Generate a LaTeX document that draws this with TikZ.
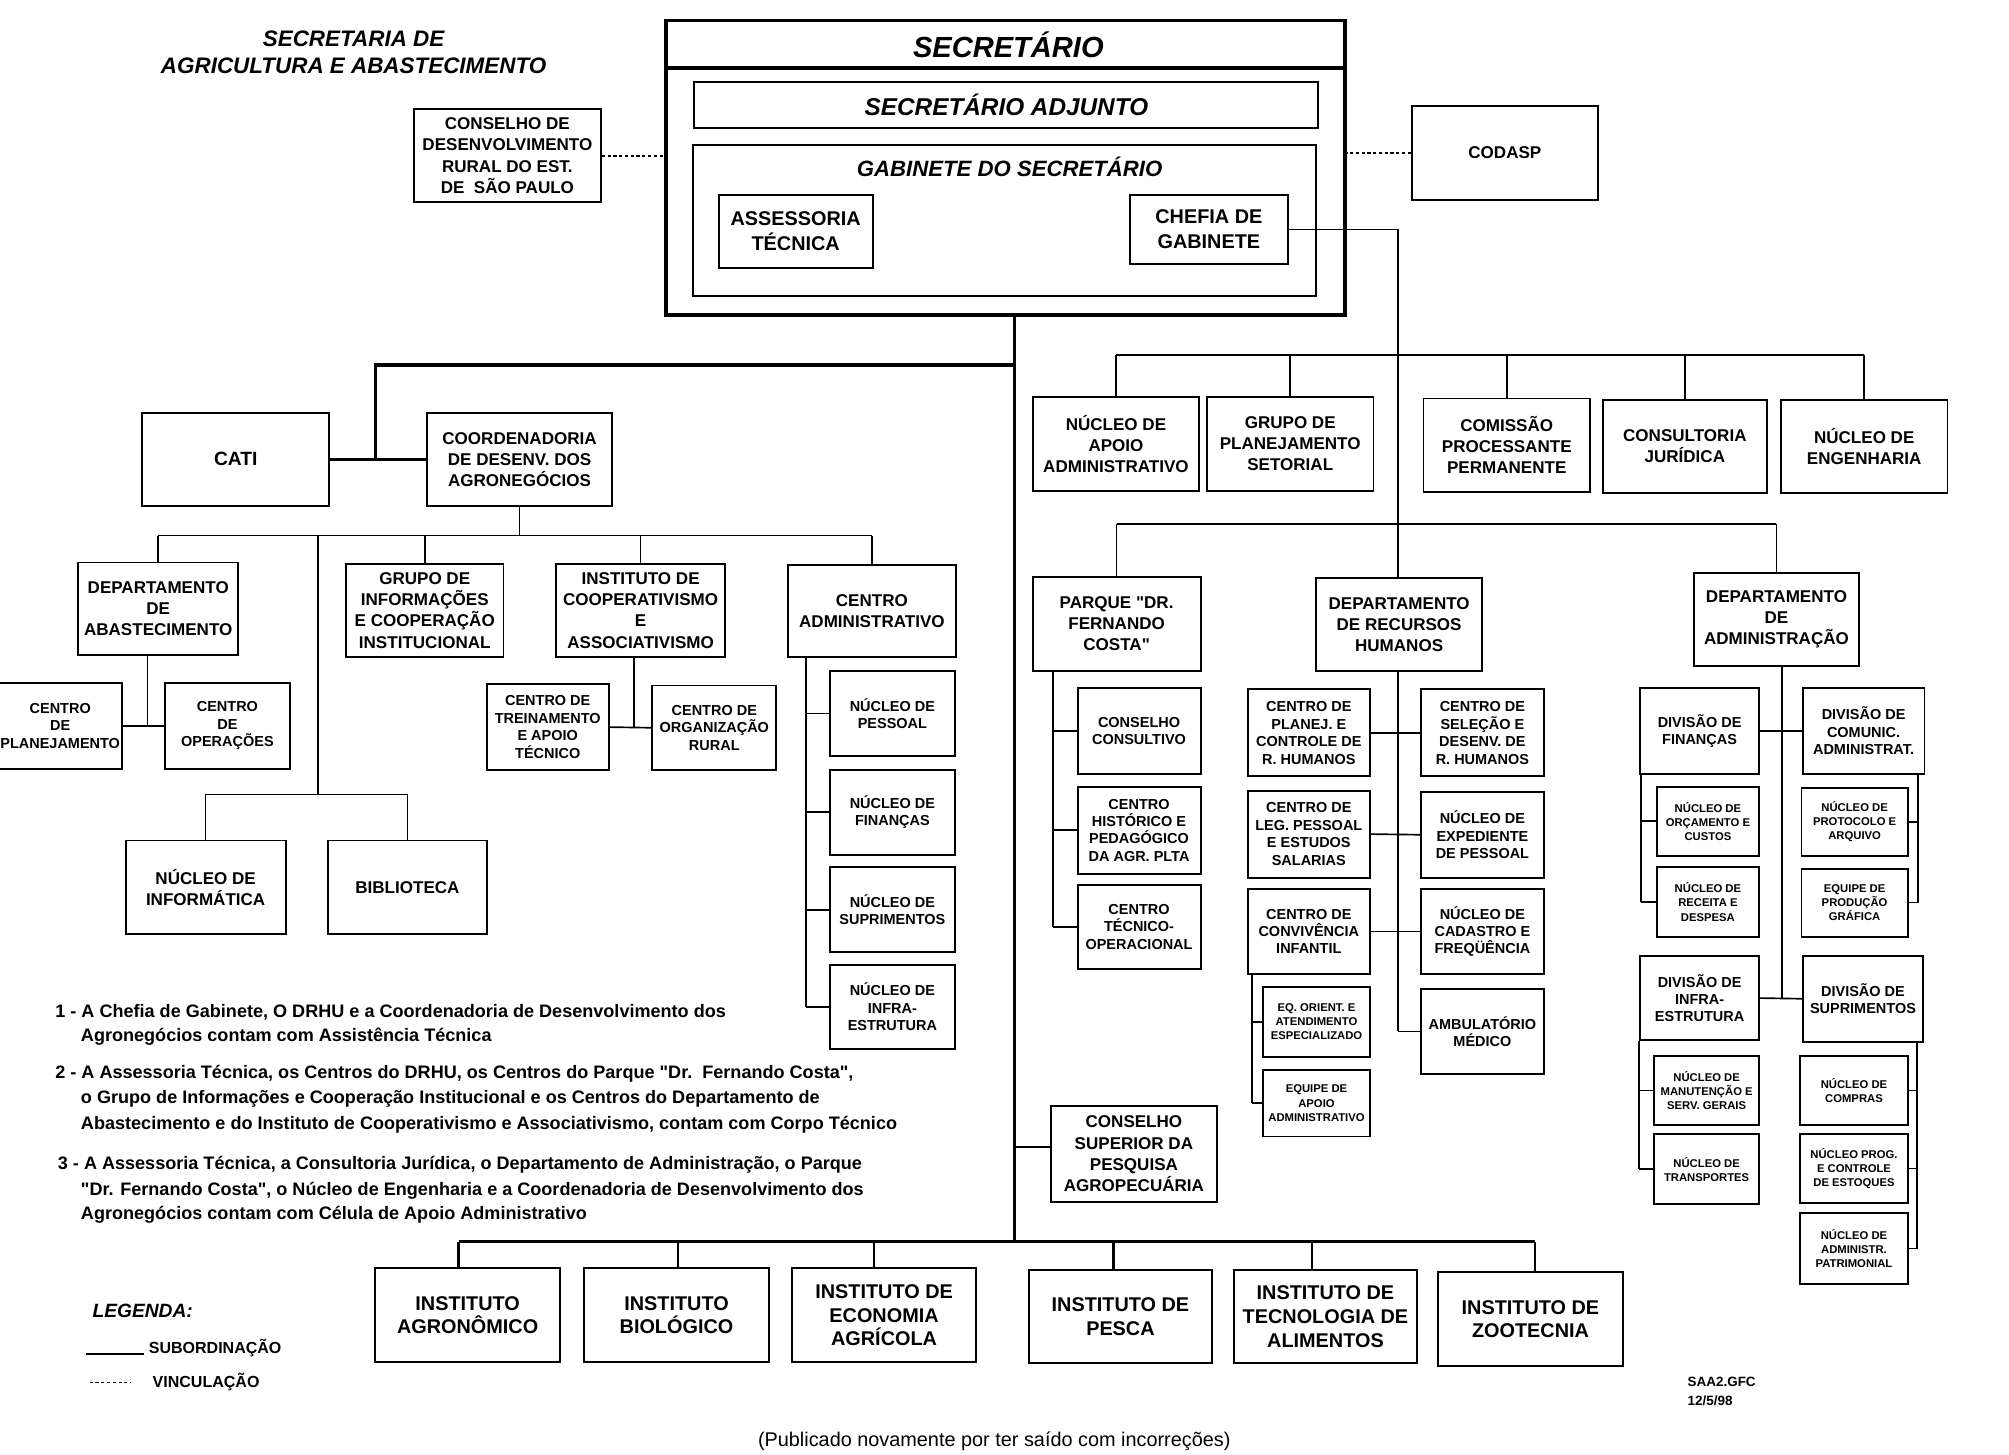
\documentclass[tikz,border=0pt]{standalone}
\usepackage{fontspec}
\setmainfont{Liberation Sans}[Ligatures=TeXOff]
\newcommand\fbig{\bfseries\fontsize{13.3}{16.5}\selectfont}
\newcommand\fmed{\bfseries\fontsize{11.3}{13.6}\selectfont}
\newcommand\ftin{\bfseries\fontsize{8.8}{11}\selectfont}
\newcommand\finst{\bfseries\fontsize{15.5}{18.5}\selectfont}
\newcommand\fgab{\bfseries\fontsize{15.5}{19.5}\selectfont}
\newcommand\qq{\symbol{34}}
\newcommand\bx[7][]{\node[box,#1,minimum width={(#5-(#3))*1pt},minimum height={(#6-(#4))*1pt}] (#2) at ({(#3+#5)/2},{(#4+#6)/2}) {#7};}
\begin{document}
\begin{tikzpicture}[x=1pt,y=-1pt,
  box/.style={draw,line width=1.5pt,rectangle,inner sep=0pt,align=center,font=\fbig},
  thn/.style={line width=1.3pt},
  med/.style={line width=2pt},
  thk/.style={line width=2.6pt},
  dotl/.style={line width=1.3pt,dash pattern=on 2.5pt off 2pt},
  note/.style={anchor=west,inner sep=0pt,font=\bfseries\fontsize{14.1}{16}\selectfont},
  ]
\fill[white] (0,0) rectangle (1568,1135);
\useasboundingbox (0,0) rectangle (1568,1135);

% ---------- title ----------
\node[font=\bfseries\itshape\fontsize{17.5}{21}\selectfont,align=center] (title) at (276,40.5) {SECRETARIA DE\\AGRICULTURA E ABASTECIMENTO};

% ---------- top block ----------
\bx[line width=3pt]{sec}{520}{16}{1050}{246}{}
\coordinate (divy) at (0,53);
\draw[line width=3pt] (sec.west |- divy) -- (sec.east |- divy);
\node[font=\bfseries\itshape\fontsize{22.7}{26}\selectfont] (sect) at (787,35) {SECRETÁRIO};
\bx[font=\bfseries\itshape\fontsize{19}{22}\selectfont]{adj}{542}{64}{1029}{100}{SECRETÁRIO ADJUNTO}
\bx{gab}{541}{113}{1027}{231}{}
\node[font=\bfseries\itshape\fontsize{17.3}{20}\selectfont] (gabt) at (788,130) {GABINETE DO SECRETÁRIO};
\bx[font=\fgab]{asse}{561}{152}{681}{209}{ASSESSORIA\\TÉCNICA}
\bx[font=\fgab]{chef}{882}{152}{1005}{206}{CHEFIA DE\\GABINETE}
\bx{cdr}{323}{85}{469}{158}{CONSELHO DE\\DESENVOLVIMENTO\\RURAL DO EST.\\DE\ \ SÃO PAULO}
\bx{codasp}{1102}{83}{1247}{156}{CODASP}
\draw[dotl] (cdr.east) -- (cdr.east -| sec.west);
\draw[dotl] (codasp.west) -- (codasp.west -| sec.east);

% ---------- left branch ----------
\bx[font=\bfseries\fontsize{15}{18}\selectfont]{cati}{111}{322}{257}{395}{CATI}
\bx{coord}{333}{322}{478}{395}{COORDENADORIA\\DE DESENV. DOS\\AGRONEGÓCIOS}
\bx{dab}{61}{439}{186}{511}{DEPARTAMENTO\\DE\\ABASTECIMENTO}
\bx{gic}{270}{440}{393}{513}{GRUPO DE\\INFORMAÇÕES\\E COOPERAÇÃO\\INSTITUCIONAL}
\bx{icoop}{434}{440}{566}{513}{INSTITUTO DE\\COOPERATIVISMO\\E\\ASSOCIATIVISMO}
\bx{cadm}{615}{441}{746}{513}{CENTRO\\ADMINISTRATIVO}
\bx[font=\fmed]{cplan}{-1}{533}{95}{600}{CENTRO\\DE\\PLANEJAMENTO}
\bx[font=\fmed]{coper}{129}{533}{226}{600}{CENTRO\\DE\\OPERAÇÕES}
\bx[font=\fmed]{ctrein}{380}{534}{475}{601}{CENTRO DE\\TREINAMENTO\\E APOIO\\TÉCNICO}
\bx[font=\fmed]{corg}{509}{535}{606}{601}{CENTRO DE\\ORGANIZAÇÃO\\RURAL}
\bx[font=\fmed]{npes}{648}{524}{745}{590}{NÚCLEO DE\\PESSOAL}
\bx[font=\fmed]{nfin}{648}{601}{745}{667}{NÚCLEO DE\\FINANÇAS}
\bx[font=\fmed]{nsup}{648}{677}{745}{743}{NÚCLEO DE\\SUPRIMENTOS}
\bx[font=\fmed]{ninfra}{648}{753}{745}{819}{NÚCLEO DE\\INFRA-\\ESTRUTURA}
\bx{ninf}{98}{656}{223}{729}{NÚCLEO DE\\INFORMÁTICA}
\bx{bib}{256}{656}{380}{729}{BIBLIOTECA}

% ---------- right top row ----------
\bx{nap}{806}{310}{936}{383}{NÚCLEO DE\\APOIO\\ADMINISTRATIVO}
\bx{gps}{942}{310}{1072}{383}{GRUPO DE\\PLANEJAMENTO\\SETORIAL}
\bx{cpp}{1111}{311}{1241}{384}{COMISSÃO\\PROCESSANTE\\PERMANENTE}
\bx{cj}{1251}{312}{1379}{385}{CONSULTORIA\\JURÍDICA}
\bx{neng}{1390}{312}{1520}{385}{NÚCLEO DE\\ENGENHARIA}

% ---------- Parque ----------
\bx{parque}{806}{450}{937}{524}{PARQUE \qq DR.\\FERNANDO\\COSTA\qq}
\bx[font=\fmed]{ccons}{841}{537}{937}{604}{CONSELHO\\CONSULTIVO}
\bx[font=\fmed]{chist}{841}{614}{937}{682}{CENTRO\\HISTÓRICO E\\PEDAGÓGICO\\DA AGR. PLTA}
\bx[font=\fmed]{ctec}{841}{691}{937}{756}{CENTRO\\TÉCNICO-\\OPERACIONAL}

% ---------- DRH ----------
\bx{drh}{1027}{451}{1157}{524}{DEPARTAMENTO\\DE RECURSOS\\HUMANOS}
\bx[font=\fmed]{cpc}{974}{538}{1069}{606}{CENTRO DE\\PLANEJ. E\\CONTROLE DE\\R. HUMANOS}
\bx[font=\fmed]{clp}{974}{617}{1069}{685}{CENTRO DE\\LEG. PESSOAL\\E ESTUDOS\\SALARIAS}
\bx[font=\fmed]{cci}{974}{694}{1069}{760}{CENTRO DE\\CONVIVÊNCIA\\INFANTIL}
\bx[font=\ftin]{eqo}{986}{770}{1069}{825}{EQ. ORIENT. E\\ATENDIMENTO\\ESPECIALIZADO}
\bx[font=\ftin]{eqa}{986}{835}{1069}{887}{EQUIPE DE\\APOIO\\ADMINISTRATIVO}
\bx[font=\fmed]{csd}{1109}{538}{1205}{606}{CENTRO DE\\SELEÇÃO E\\DESENV. DE\\R. HUMANOS}
\bx[font=\fmed]{nep}{1109}{618}{1205}{685}{NÚCLEO DE\\EXPEDIENTE\\DE PESSOAL}
\bx[font=\fmed]{ncf}{1109}{694}{1205}{760}{NÚCLEO DE\\CADASTRO E\\FREQÜÊNCIA}
\bx[font=\fmed]{amb}{1109}{772}{1205}{838}{AMBULATÓRIO\\MÉDICO}

% ---------- DA ----------
\bx{da}{1322}{447}{1451}{520}{DEPARTAMENTO\\DE\\ADMINISTRAÇÃO}
\bx[font=\fmed]{dfin}{1280}{537}{1373}{604}{DIVISÃO DE\\FINANÇAS}
\bx[font=\fmed]{dcom}{1407}{537}{1502}{604}{DIVISÃO DE\\COMUNIC.\\ADMINISTRAT.}
\bx[font=\ftin]{norc}{1293}{614}{1373}{668}{NÚCLEO DE\\ORÇAMENTO E\\CUSTOS}
\bx[font=\ftin]{nrec}{1293}{677}{1373}{731}{NÚCLEO DE\\RECEITA E\\DESPESA}
\bx[font=\ftin]{nprot}{1406}{615}{1489}{668}{NÚCLEO DE\\PROTOCOLO E\\ARQUIVO}
\bx[font=\ftin]{eprod}{1406}{678}{1489}{731}{EQUIPE DE\\PRODUÇÃO\\GRÁFICA}
\bx[font=\fmed]{dinf}{1280}{746}{1373}{812}{DIVISÃO DE\\INFRA-\\ESTRUTURA}
\bx[font=\fmed]{dsup}{1407}{746}{1501}{813}{DIVISÃO DE\\SUPRIMENTOS}
\bx[font=\ftin]{nman}{1291}{824}{1373}{878}{NÚCLEO DE\\MANUTENÇÃO E\\SERV. GERAIS}
\bx[font=\ftin]{ntra}{1291}{885}{1373}{940}{NÚCLEO DE\\TRANSPORTES}
\bx[font=\ftin]{ncomp}{1405}{824}{1489}{878}{NÚCLEO DE\\COMPRAS}
\bx[font=\ftin]{nprog}{1405}{885}{1489}{939}{NÚCLEO PROG.\\E CONTROLE\\DE ESTOQUES}
\bx[font=\ftin]{nadm}{1405}{947}{1489}{1002}{NÚCLEO DE\\ADMINISTR.\\PATRIMONIAL}

% ---------- bottom ----------
\bx{csup}{820}{863}{950}{938}{CONSELHO\\SUPERIOR DA\\PESQUISA\\AGROPECUÁRIA}
\bx[font=\finst]{iagr}{293}{990}{437}{1063}{INSTITUTO\\AGRONÔMICO}
\bx[font=\finst]{ibio}{456}{990}{600}{1063}{INSTITUTO\\BIOLÓGICO}
\bx[font=\finst]{ieco}{618}{990}{762}{1063}{INSTITUTO DE\\ECONOMIA\\AGRÍCOLA}
\bx[font=\finst]{ipes}{803}{991}{946}{1064}{INSTITUTO DE\\PESCA}
\bx[font=\finst]{ital}{963}{991}{1106}{1064}{INSTITUTO DE\\TECNOLOGIA DE\\ALIMENTOS}
\bx[font=\finst]{izoo}{1122}{993}{1267}{1066}{INSTITUTO DE\\ZOOTECNIA}

% ---------- main connectors ----------
\coordinate (jL) at (792,285);
\coordinate (jLc) at (293,285);
\coordinate (jB) at (792,969);
\coordinate (jCS) at (792,895);
\draw[thk] (sec.south -| jL) -- (jB);
\draw[thk] (jL) -- (jLc) -- (jLc |- cati.east);
\draw[thk] (cati.east) -- (coord.west);
\draw[thn] (jCS) -- (jCS -| csup.west);
\coordinate (b1) at (358,969);
\coordinate (b2) at (529,969);
\coordinate (b3) at (682,969);
\coordinate (b4) at (869,969);
\coordinate (b5) at (1024,969);
\coordinate (b6) at (1198,969);
\draw[thk] (b1) -- (b6);
\draw[med] (b1) -- (b1 |- iagr.north);
\draw[med] (b2) -- (b2 |- ibio.north);
\draw[med] (b3) -- (b3 |- ieco.north);
\draw[med] (b4) -- (b4 |- ipes.north);
\draw[med] (b5) -- (b5 |- ital.north);
\draw[med] (b6) -- (b6 |- izoo.north);

% chefia line and right buses
\coordinate (cv) at (1091,277);
\draw[thn] (chef.east) -- (chef.east -| cv) -- (cv |- drh.north);
\coordinate (rb) at (0,277);
\draw[thn] (nap.north |- rb) -- (neng.north |- rb);
\foreach \n in {nap,gps,cpp,cj,neng} \draw[thn] (\n.north |- rb) -- (\n.north);
\coordinate (pb) at (0,409);
\draw[thn] (parque.north |- pb) -- (da.north |- pb);
\draw[thn] (parque.north |- pb) -- (parque.north);
\draw[thn] (da.north |- pb) -- (da.north);

% coordenadoria subtree
\coordinate (cb) at (0,418);
\draw[thn] (coord.south) -- (coord.south |- cb);
\draw[thn] (dab.north |- cb) -- (cadm.north |- cb);
\foreach \n in {dab,gic,icoop,cadm} \draw[thn] (\n.north |- cb) -- (\n.north);
\coordinate (ld) at (248,418);
\coordinate (ldb) at (248,620);
\draw[thn] (ld) -- (ldb);
\draw[thn] (ninf.north |- ldb) -- (bib.north |- ldb);
\draw[thn] (ninf.north |- ldb) -- (ninf.north);
\draw[thn] (bib.north |- ldb) -- (bib.north);
\coordinate (dav) at (115,0);
\draw[thn] (cplan.east) -- (coper.west);
\draw[thn] (dab.south -| dav) -- (dav |- cplan.east);
\coordinate (icv) at (495,0);
\draw[thn] (ctrein.east) -- (corg.west);
\draw[thn] (icoop.south -| icv) -- (icv |- ctrein.east);
\coordinate (cav) at (629,0);
\draw[thn] (cadm.south -| cav) -- (cav |- ninfra.west);
\foreach \n in {npes,nfin,nsup,ninfra} \draw[thn] (cav |- \n.west) -- (\n.west);

% parque subtree
\coordinate (pv) at (822,0);
\draw[thn] (parque.south -| pv) -- (pv |- ctec.west);
\foreach \n in {ccons,chist,ctec} \draw[thn] (pv |- \n.west) -- (\n.west);

% DRH subtree
\draw[thn] (drh.south -| cv) -- (cv |- amb.west);
\draw[thn] (cpc.east) -- (csd.west);
\draw[thn] (clp.east) -- (nep.west);
\draw[thn] (cci.east) -- (ncf.west);
\draw[thn] (cv |- amb.west) -- (amb.west);
\coordinate (eqv) at (977,0);
\draw[thn] (cci.south -| eqv) -- (eqv |- eqa.west);
\draw[thn] (eqv |- eqo.west) -- (eqo.west);
\draw[thn] (eqv |- eqa.west) -- (eqa.west);

% DA subtree
\coordinate (dav2) at (1391,0);
\draw[thn] (da.south -| dav2) -- (dav2 |- dinf.east);
\draw[thn] (dfin.east) -- (dcom.west);
\draw[thn] (dinf.east) -- (dsup.west);
\coordinate (dfv) at (1281,0);
\draw[thn] (dfin.south -| dfv) -- (dfv |- nrec.west);
\foreach \n in {norc,nrec} \draw[thn] (dfv |- \n.west) -- (\n.west);
\coordinate (dcv) at (1497,0);
\draw[thn] (dcom.south -| dcv) -- (dcv |- eprod.east);
\foreach \n in {nprot,eprod} \draw[thn] (dcv |- \n.east) -- (\n.east);
\coordinate (div) at (1279,0);
\draw[thn] (dinf.south -| div) -- (div |- ntra.west);
\foreach \n in {nman,ntra} \draw[thn] (div |- \n.west) -- (\n.west);
\coordinate (dsv) at (1496,0);
\draw[thn] (dsup.south -| dsv) -- (dsv |- nadm.east);
\foreach \n in {ncomp,nprog,nadm} \draw[thn] (dsv |- \n.east) -- (\n.east);

% ---------- notes ----------
\node[note] (n1a) at (43,790) {1 - A Chefia de Gabinete, O DRHU e a Coordenadoria de Desenvolvimento dos};
\node[note] (n1b) at (63,809) {Agronegócios contam com Assistência Técnica};
\node[note] (n2a) at (43,838) {2 - A Assessoria Técnica, os Centros do DRHU, os Centros do Parque \qq Dr.\ \ Fernando Costa\qq,};
\node[note] (n2b) at (63,858) {o Grupo de Informações e Cooperação Institucional e os Centros do Departamento de};
\node[note] (n2c) at (63,878) {Abastecimento e do Instituto de Cooperativismo e Associativismo, contam com Corpo Técnico};
\node[note] (n3a) at (45,909) {3 - A Assessoria Técnica, a Consultoria Jurídica, o Departamento de Administração, o Parque};
\node[note] (n3b) at (63,929) {\qq Dr. Fernando Costa\qq, o Núcleo de Engenharia e a Coordenadoria de Desenvolvimento dos};
\node[note] (n3c) at (63,948) {Agronegócios contam com Célula de Apoio Administrativo};

% ---------- legend ----------
\node[anchor=west,inner sep=0pt,font=\bfseries\itshape\fontsize{15}{18}\selectfont] (leg) at (72,1023) {LEGENDA:};
\node[anchor=west,inner sep=0pt,font=\bfseries\fontsize{12.5}{15}\selectfont] (lsub) at (116,1052) {SUBORDINAÇÃO};
\node[anchor=west,inner sep=0pt,font=\bfseries\fontsize{12.5}{15}\selectfont] (lvin) at (119,1079) {VINCULAÇÃO};
\coordinate (ls1) at (67,1057);
\coordinate (ls2) at (112,1057);
\draw[thn] (ls1) -- (ls2);
\coordinate (lv1) at (70,1079);
\coordinate (lv2) at (102,1079);
\draw[dotl] (lv1) -- (lv2);

% ---------- footer ----------
\node[font=\fontsize{15.5}{18}\selectfont] (pub) at (776,1125) {(Publicado novamente por ter saído com incorreções)};
\node[anchor=west,align=left,inner sep=0pt,font=\bfseries\fontsize{10.5}{15}\selectfont] (saa) at (1317,1086) {SAA2.GFC\\12/5/98};
\end{tikzpicture}
\end{document}
